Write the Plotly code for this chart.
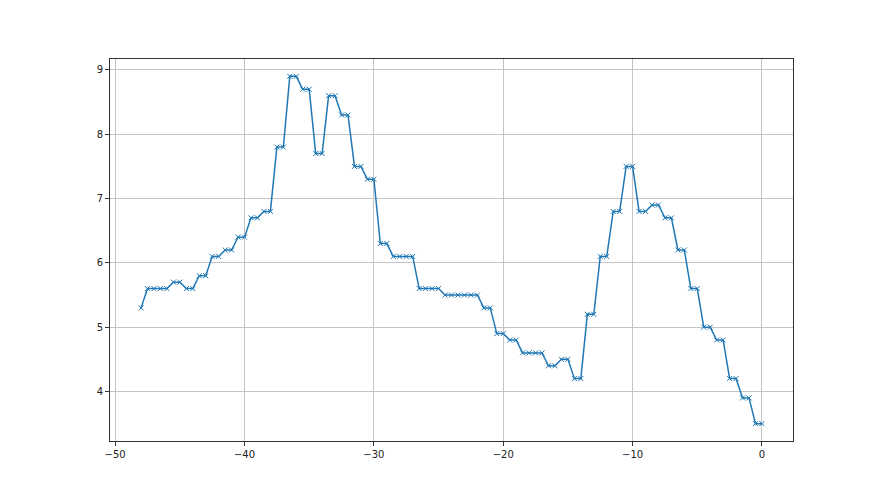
import plotly.graph_objects as go

x_values = [
    -48.0, -47.5, -47.0, -46.5, -46.0, -45.5, -45.0, -44.5, -44.0, -43.5,
    -43.0, -42.5, -42.0, -41.5, -41.0, -40.5, -40.0, -39.5, -39.0, -38.5,
    -38.0, -37.5, -37.0, -36.5, -36.0, -35.5, -35.0, -34.5, -34.0, -33.5,
    -33.0, -32.5, -32.0, -31.5, -31.0, -30.5, -30.0, -29.5, -29.0, -28.5,
    -28.0, -27.5, -27.0, -26.5, -26.0, -25.5, -25.0, -24.5, -24.0, -23.5,
    -23.0, -22.5, -22.0, -21.5, -21.0, -20.5, -20.0, -19.5, -19.0, -18.5,
    -18.0, -17.5, -17.0, -16.5, -16.0, -15.5, -15.0, -14.5, -14.0, -13.5,
    -13.0, -12.5, -12.0, -11.5, -11.0, -10.5, -10.0, -9.5, -9.0, -8.5,
    -8.0, -7.5, -7.0, -6.5, -6.0, -5.5, -5.0, -4.5, -4.0, -3.5,
    -3.0, -2.5, -2.0, -1.5, -1.0, -0.5, 0.0,
]

y_values = [
    5.3, 5.6, 5.6, 5.6, 5.6, 5.7, 5.7, 5.6, 5.6, 5.8,
    5.8, 6.1, 6.1, 6.2, 6.2, 6.4, 6.4, 6.7, 6.7, 6.8,
    6.8, 7.8, 7.8, 8.9, 8.9, 8.7, 8.7, 7.7, 7.7, 8.6,
    8.6, 8.3, 8.3, 7.5, 7.5, 7.3, 7.3, 6.3, 6.3, 6.1,
    6.1, 6.1, 6.1, 5.6, 5.6, 5.6, 5.6, 5.5, 5.5, 5.5,
    5.5, 5.5, 5.5, 5.3, 5.3, 4.9, 4.9, 4.8, 4.8, 4.6,
    4.6, 4.6, 4.6, 4.4, 4.4, 4.5, 4.5, 4.2, 4.2, 5.2,
    5.2, 6.1, 6.1, 6.8, 6.8, 7.5, 7.5, 6.8, 6.8, 6.9,
    6.9, 6.7, 6.7, 6.2, 6.2, 5.6, 5.6, 5.0, 5.0, 4.8,
    4.8, 4.2, 4.2, 3.9, 3.9, 3.5, 3.5,
]

x_ticks = [-50, -40, -30, -20, -10, 0]
y_ticks = [4, 5, 6, 7, 8, 9]

color = "#1f77b4"

fig = go.Figure()
fig.add_trace(go.Scatter(
    x=x_values, y=y_values,
    mode="lines+markers",
    line=dict(color=color, width=1.5),
    marker=dict(symbol="x-thin", size=5, color=color,
                line=dict(color=color, width=1)),
    showlegend=False,
))

axis_common = dict(
    showgrid=True, gridcolor="#c4c4c4", gridwidth=0.8,
    showline=True, linecolor="#333333", linewidth=1, mirror=True,
    ticks="outside", ticklen=4, tickwidth=1, tickcolor="#333333",
    zeroline=False,
    tickfont=dict(family="DejaVu Sans", size=10, color="#222222"),
)

fig.update_xaxes(range=[-50.4, 2.4], tickvals=x_ticks, **axis_common)
fig.update_yaxes(range=[3.23, 9.17], tickvals=y_ticks, **axis_common)

fig.update_layout(
    width=880, height=495,
    margin=dict(l=102, r=95, t=51, b=62),
    paper_bgcolor="white", plot_bgcolor="white",
)

fig.write_html("out.html")
